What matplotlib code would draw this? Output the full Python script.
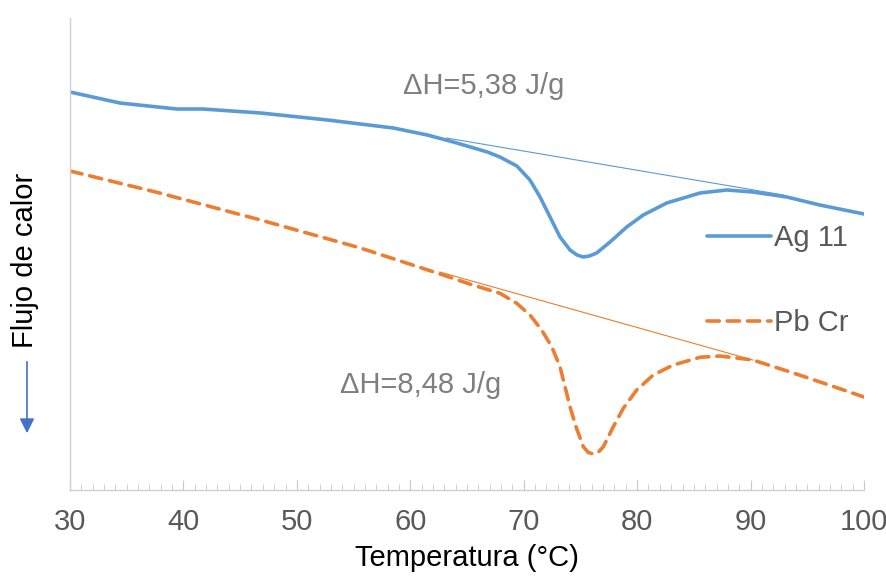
import matplotlib
matplotlib.use("Agg")
import matplotlib.pyplot as plt
from matplotlib.ticker import MultipleLocator

plt.rcParams['font.family'] = ['Liberation Sans', 'DejaVu Sans']

# Curvas DSC (unidades arbitrarias de flujo de calor)
temp_ag = [30.0, 34.4, 39.4, 41.7, 46.8, 52.7, 58.5, 61.5, 63.8, 66.8, 67.9, 69.4,
           70.55, 71.44, 72.32, 73.2, 74.08, 74.7, 75.25, 75.8, 76.43, 77.61, 79.08,
           80.54, 82.61, 84.37, 85.54, 87.9, 90.2, 93.2, 96.1, 100.0]
flujo_ag = [39.8, 38.7, 38.1, 38.1, 37.7, 37.0, 36.2, 35.5, 34.8, 33.8, 33.3, 32.4,
            31.0, 29.3, 27.3, 25.3, 24.0, 23.5, 23.3, 23.4, 23.7, 24.8, 26.3,
            27.5, 28.7, 29.3, 29.7, 30.0, 29.8, 29.3, 28.5, 27.6]

temp_pb = [30.0, 37.9, 46.8, 55.6, 62.9, 65.5, 67.91, 69.38, 70.55, 71.58, 72.47,
           73.2, 73.64, 74.08, 74.61, 75.25, 75.7, 76.13, 76.6, 77.02, 77.9, 78.78,
           79.96, 81.42, 83.19, 85.54, 87.3, 90.2, 93.5, 96.4, 100.0]
flujo_pb = [31.9, 29.7, 27.0, 24.2, 21.5, 20.5, 19.67, 18.67, 17.5, 16.0, 14.33,
            12.33, 10.33, 8.33, 6.33, 4.33, 3.75, 3.6, 3.8, 4.33, 6.33, 8.17,
            10.0, 11.5, 12.5, 13.27, 13.4, 13.0, 11.8, 10.7, 9.3]

# Líneas base para la integración
base_ag_t = [63.2, 92.9]
base_ag_f = [35.2, 29.5]
base_pb_t = [62.6, 90.2]
base_pb_f = [21.8, 13.0]

azul = '#5B9BD5'
naranja = '#ED7D31'

fig = plt.figure(figsize=(8.87, 5.76), dpi=100)
ax = fig.add_axes([70 / 887, 86 / 576, 794 / 887, 472 / 576])

ax.plot(base_ag_t, base_ag_f, color=azul, lw=0.8)
ax.plot(base_pb_t, base_pb_f, color=naranja, lw=0.8)
ax.plot(temp_ag, flujo_ag, color=azul, lw=2.6, label='Ag 11',
        solid_capstyle='round', solid_joinstyle='round')
ax.plot(temp_pb, flujo_pb, color=naranja, lw=2.6, label='Pb Cr',
        dashes=(3.4, 2.2), dash_capstyle='round', dash_joinstyle='round')

ax.text(66.5, 40.4, 'ΔH=5,38 J/g', fontsize=21, color='#7F7F7F', ha='center', va='center')
ax.text(60.9, 10.5, 'ΔH=8,48 J/g', fontsize=21, color='#7F7F7F', ha='center', va='center')

ax.set_xlim(30, 100)
ax.set_ylim(0, 47.2)
ax.xaxis.set_major_locator(MultipleLocator(10))
ax.xaxis.set_minor_locator(MultipleLocator(1))
ax.set_yticks([])
for s in ['top', 'right']:
    ax.spines[s].set_visible(False)
for s in ['left', 'bottom']:
    ax.spines[s].set_color('#D0D0D0')
    ax.spines[s].set_linewidth(1.0)
ax.tick_params(axis='x', which='major', direction='in', length=7, color='#C8C8C8',
               labelsize=21, labelcolor='#595959', pad=13)
ax.tick_params(axis='x', which='minor', direction='in', length=4, color='#C8C8C8')
ax.set_xlabel('Temperatura (°C)', fontsize=21, labelpad=6)

fig.text(25 / 887, 1 - 260 / 576, 'Flujo de calor', fontsize=21, rotation=90,
         ha='center', va='center')
fig.add_artist(plt.Line2D([27 / 887, 27 / 887], [1 - 362 / 576, 1 - 422 / 576],
                          color='#4472C4', lw=1.2))
ax.annotate('', xy=(27 / 887, 1 - 436 / 576), xytext=(27 / 887, 1 - 416 / 576),
            xycoords='figure fraction', textcoords='figure fraction',
            arrowprops=dict(arrowstyle='-|>', color='#4472C4', lw=1.2, mutation_scale=22))

ax.legend(loc='upper left', bbox_to_anchor=(707 / 887, 1 - 224 / 576),
          bbox_transform=fig.transFigure, frameon=False, fontsize=21,
          handlelength=2.2, handletextpad=0.1, labelspacing=1.95,
          borderpad=0, borderaxespad=0, labelcolor='#595959')

fig.savefig('out.png', dpi=100)
